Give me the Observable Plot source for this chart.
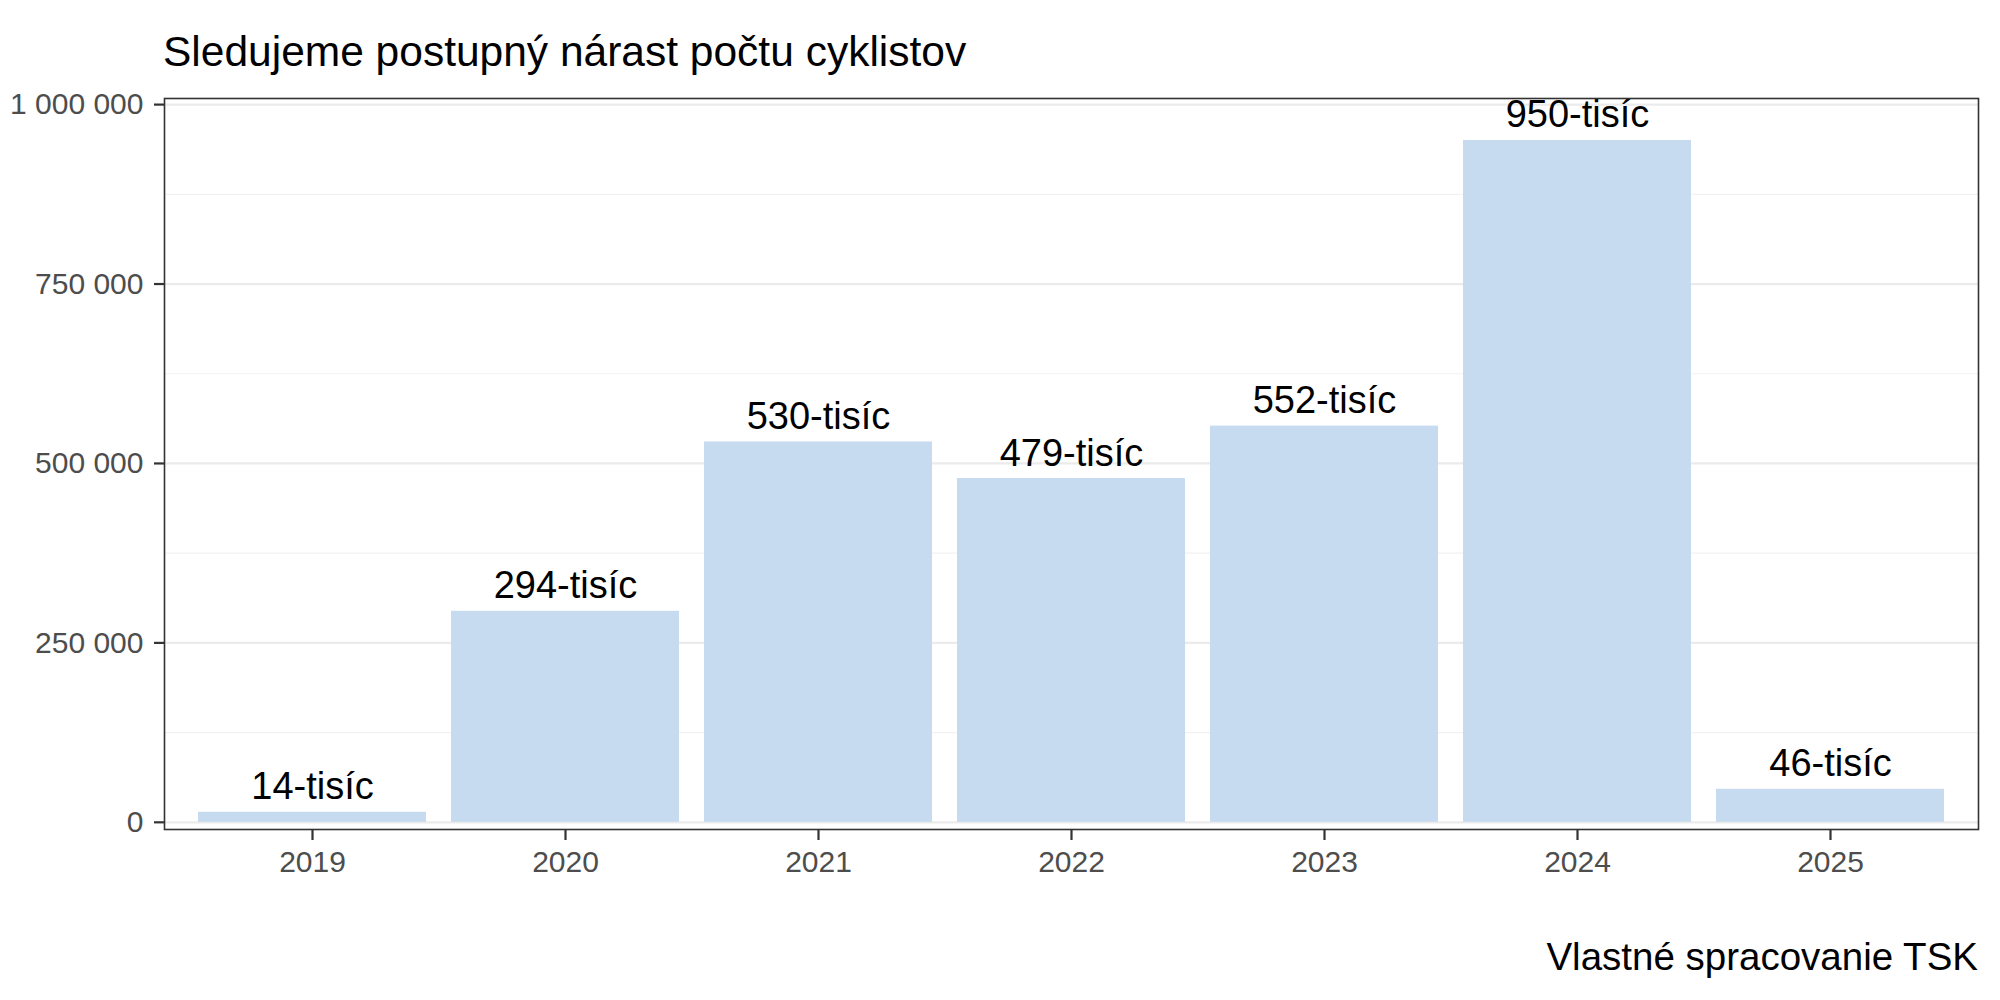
<!DOCTYPE html>
<html>
<head>
<meta charset="utf-8">
<script src="https://cdn.jsdelivr.net/npm/d3@7"></script>
<script src="https://cdn.jsdelivr.net/npm/@observablehq/plot@0.6"></script>
<style>
  html, body { margin: 0; padding: 0; background: #fff; }
  body { width: 2000px; height: 1000px; overflow: hidden; font-family: "Liberation Sans", Arial, sans-serif; }
  #title { height: 80px; box-sizing: border-box; padding-top: 31px; padding-left: 163px; font-size: 42.5px; line-height: 42px; color: #000; white-space: nowrap; }
  #chart svg { display: block; }
  #caption { box-sizing: border-box; padding-top: 17.5px; padding-right: 22px; text-align: right; font-size: 38.5px; line-height: 38px; color: #000; white-space: nowrap; }
</style>
</head>
<body>
<div id="title">Sledujeme postupný nárast počtu cyklistov</div>
<div id="chart"></div>
<div id="caption">Vlastné spracovanie TSK</div>
<script>
const years = ["2019", "2020", "2021", "2022", "2023", "2024", "2025"];
const counts = [14000, 294000, 530000, 479000, 552000, 950000, 46000];
const barLabels = ["14-tisíc", "294-tisíc", "530-tisíc", "479-tisíc", "552-tisíc", "950-tisíc", "46-tisíc"];
const majorTicks = [0, 250000, 500000, 750000, 1000000];
const minorTicks = [125000, 375000, 625000, 875000];

const data = years.map((y, i) => ({year: y, count: counts[i], label: barLabels[i]}));
const fmt = d3.formatLocale({decimal: ",", thousands: " ", grouping: [3], currency: ["", ""]}).format(",d");

const chart = Plot.plot({
  width: 2000,
  height: 840,
  marginLeft: 164,
  marginRight: 22,
  marginTop: 18,
  marginBottom: 91,
  style: {fontFamily: "'Liberation Sans', Arial, sans-serif", background: "#fff", overflow: "visible"},
  x: {domain: years, paddingInner: 0.1, paddingOuter: 0.13, label: null},
  y: {domain: [-10000, 1008500], label: null},
  marks: [
    Plot.gridY(minorTicks, {stroke: "#F2F2F2", strokeOpacity: 1, strokeWidth: 1.2}),
    Plot.gridY(majorTicks, {stroke: "#EBEBEB", strokeOpacity: 1, strokeWidth: 2.2}),
    Plot.barY(data, {x: "year", y: "count", fill: "#C6DBEF"}),
    Plot.text(data, {x: "year", y: "count", text: "label", lineAnchor: "bottom", dy: -13, fontSize: 38, fill: "#000"}),
    Plot.frame({stroke: "#333333", strokeWidth: 1.6}),
    Plot.axisY(majorTicks, {tickSize: 10, tickPadding: 11, tickFormat: fmt, fontSize: 30, color: "#4D4D4D", stroke: "#333333", strokeWidth: 2.2, label: null}),
    Plot.axisX({tickSize: 11, tickPadding: 10, fontSize: 30, color: "#4D4D4D", stroke: "#333333", strokeWidth: 2.2, label: null})
  ]
});
document.getElementById("chart").appendChild(chart);
</script>
</body>
</html>
